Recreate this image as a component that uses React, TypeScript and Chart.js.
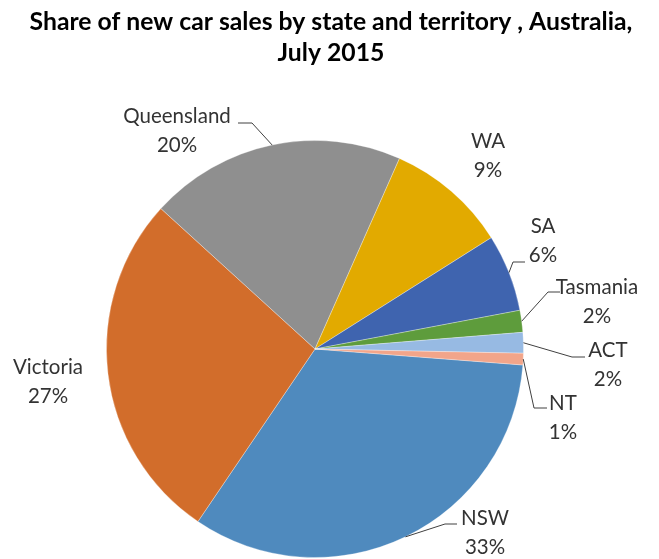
import React, { useEffect, useRef } from "react";
import { Chart, registerables } from "chart.js";

Chart.register(...registerables);

const categories = ["NSW", "Victoria", "Queensland", "WA", "SA", "Tasmania", "ACT", "NT"];
const shares = [33.3, 27.3, 19.9, 9.4, 6.0, 1.7, 1.6, 0.9];
const colors = ["#4F8ABE", "#D26D2B", "#8F8F8F", "#E2AA00", "#3F64AF", "#5E9C3C", "#97BAE3", "#F2A58A"];
const titleLines = ["Share of new car sales by state and territory , Australia,", "July 2015"];

// label layout (styles): centre of the first text line and leader elbow/end points
const labelLayout: { x: number; y: number; leader: number[][] | null }[] = [
  { x: 485, y: 518, leader: [[445, 524], [457, 524]] },
  { x: 48, y: 367, leader: null },
  { x: 177, y: 116, leader: [[252, 123], [238, 123]] },
  { x: 488, y: 141, leader: null },
  { x: 543, y: 226, leader: [[513, 262], [525, 262]] },
  { x: 597, y: 287, leader: [[548, 292], [560, 292]] },
  { x: 608, y: 350, leader: [[572, 357], [585, 357]] },
  { x: 563, y: 403, leader: [[534, 408], [547, 408]] },
];

const FONT = "Lato, 'Open Sans', sans-serif";

const labelPlugin = {
  id: "pieLabels",
  afterDraw(chart: any) {
    const ctx = chart.ctx as CanvasRenderingContext2D;
    ctx.save();
    // title
    ctx.fillStyle = "#000000";
    ctx.textAlign = "center";
    ctx.textBaseline = "middle";
    let size = 21;
    ctx.font = `bold ${size}px ${FONT}`;
    const w = ctx.measureText(titleLines[0]).width;
    size = size * 603 / w;
    ctx.font = `bold ${size}px ${FONT}`;
    ctx.fillText(titleLines[0], 331, 22);
    ctx.fillText(titleLines[1], 331, 53);

    const meta = chart.getDatasetMeta(0);
    const data = chart.data.datasets[0].data as number[];
    const total = data.reduce((a, b) => a + b, 0);
    ctx.font = `20.5px ${FONT}`;
    meta.data.forEach((arc: any, i: number) => {
      const lay = labelLayout[i];
      if (!lay) return;
      const p = arc.getProps(["x", "y", "startAngle", "endAngle", "outerRadius"], true);
      const mid = (p.startAngle + p.endAngle) / 2;
      if (lay.leader) {
        const ex = p.x + p.outerRadius * Math.cos(mid);
        const ey = p.y + p.outerRadius * Math.sin(mid);
        ctx.beginPath();
        ctx.strokeStyle = "#404040";
        ctx.lineWidth = 1;
        ctx.moveTo(ex, ey);
        lay.leader.forEach((pt) => ctx.lineTo(pt[0], pt[1]));
        ctx.stroke();
      }
      ctx.fillStyle = "#333333";
      ctx.textAlign = "center";
      ctx.textBaseline = "middle";
      const pct = Math.round((data[i] / total) * 100) + "%";
      ctx.fillText(chart.data.labels[i], lay.x, lay.y);
      ctx.fillText(pct, lay.x, lay.y + 29);
    });
    ctx.restore();
  },
};

export default function App() {
  const ref = useRef<HTMLCanvasElement | null>(null);
  useEffect(() => {
    if (!ref.current) return;
    const chart = new Chart(ref.current, {
      type: "pie",
      data: {
        labels: categories,
        datasets: [
          {
            data: shares,
            backgroundColor: colors,
            borderColor: "rgba(255,255,255,0.3)",
            borderWidth: 1,
          },
        ],
      },
      options: {
        responsive: false,
        animation: false,
        rotation: 94.4,
        layout: { padding: { left: 106, right: 135, top: 140, bottom: 1 } },
        plugins: {
          legend: { display: false },
          tooltip: { enabled: false },
          title: { display: false },
        },
      },
      plugins: [labelPlugin],
    });
    return () => chart.destroy();
  }, []);
  return (
    <div style={{ position: "fixed", left: 0, top: 0, width: 659, height: 559, background: "#ffffff" }}>
      <canvas ref={ref} width={659} height={559} />
    </div>
  );
}
